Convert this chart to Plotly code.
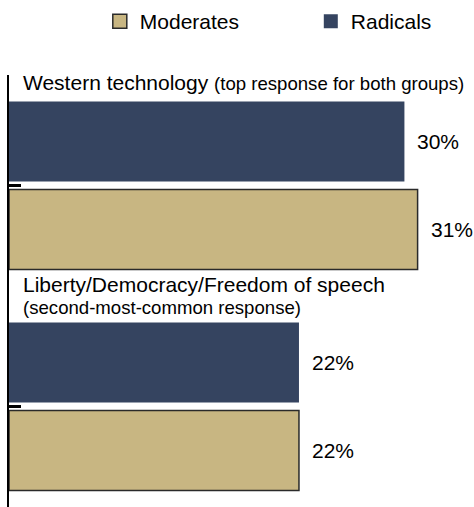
import plotly.graph_objects as go

categories = ["Western technology", "Liberty/Democracy/Freedom of speech"]
subtitles = ["(top response for both groups)", "(second-most-common response)"]
radicals = [30, 22]
moderates = [31, 22]
radical_labels = ["30%", "22%"]
moderate_labels = ["31%", "22%"]

NAVY = "rgb(53,68,96)"
TAN = "rgb(200,182,130)"
FONT = "Liberation Sans, Arial, sans-serif"

fig = go.Figure()
fig.add_trace(go.Bar(y=categories, x=radicals, orientation="h", name="Radicals",
                     marker=dict(color=NAVY, line=dict(width=0)), showlegend=False,
                     hoverinfo="skip"))
fig.add_trace(go.Bar(y=categories, x=moderates, orientation="h", name="Moderates",
                     marker=dict(color=TAN, line=dict(color="#2a2a2a", width=1.5)),
                     showlegend=False, hoverinfo="skip"))
# legend entries
fig.add_trace(go.Scatter(x=[None], y=[None], mode="markers", name="Moderates",
                         marker=dict(symbol="square", size=14, color=TAN,
                                     line=dict(color="#2a2a2a", width=1.5))))
fig.add_trace(go.Scatter(x=[None], y=[None], mode="markers", name="Radicals",
                         marker=dict(symbol="square", size=14, color=NAVY,
                                     line=dict(width=0))))

ann = []
# category titles
ann.append(dict(xref="paper", yref="y", x=0, y=categories[0], xanchor="left", yanchor="bottom",
                xshift=12, yshift=90, showarrow=False,
                text=categories[0] + " <span style='font-size:18.6px'>" + subtitles[0] + "</span>",
                font=dict(size=21, color="black", family=FONT)))
ann.append(dict(xref="paper", yref="y", x=0, y=categories[1], xanchor="left", yanchor="bottom",
                xshift=12, yshift=108, showarrow=False, text=categories[1],
                font=dict(size=21, color="black", family=FONT)))
ann.append(dict(xref="paper", yref="y", x=0, y=categories[1], xanchor="left", yanchor="bottom",
                xshift=12, yshift=86.5, showarrow=False, text=subtitles[1],
                font=dict(size=18.6, color="black", family=FONT)))
# value labels
for c, v, t in zip(categories, radicals, radical_labels):
    ann.append(dict(xref="x", yref="y", x=v, y=c, xanchor="left", yanchor="middle",
                    xshift=11, yshift=44, showarrow=False, text=t,
                    font=dict(size=21, color="black", family=FONT)))
for c, v, t in zip(categories, moderates, moderate_labels):
    ann.append(dict(xref="x", yref="y", x=v, y=c, xanchor="left", yanchor="middle",
                    xshift=11, yshift=-44, showarrow=False, text=t,
                    font=dict(size=21, color="black", family=FONT)))

fig.update_layout(
    width=474, height=507,
    margin=dict(l=9, r=5, t=75, b=0),
    paper_bgcolor="white", plot_bgcolor="white",
    barmode="group", bargap=0.2036, bargroupgap=0.0909,
    font=dict(family=FONT, size=21, color="black"),
    annotations=ann,
    showlegend=True,
    legend=dict(orientation="h", xref="container", yref="container",
                x=0.2 + 5 / 474, y=1 - 21.5 / 507, xanchor="left", yanchor="middle",
                entrywidth=166, font=dict(size=21, family=FONT, color="black"),
                itemsizing="trace", bgcolor="rgba(0,0,0,0)"),
    xaxis=dict(range=[0, 34.9], visible=False, showgrid=False, zeroline=False),
    yaxis=dict(range=[1.4548, -0.5], showline=True, linecolor="black", linewidth=2,
               ticks="inside", ticklen=12, tickwidth=3, tickcolor="black",
               showticklabels=False, showgrid=False, zeroline=False),
)

fig.write_html("out.html", config={"displayModeBar": False},
               post_script="document.body.style.margin='0';document.body.style.overflow='hidden';")
